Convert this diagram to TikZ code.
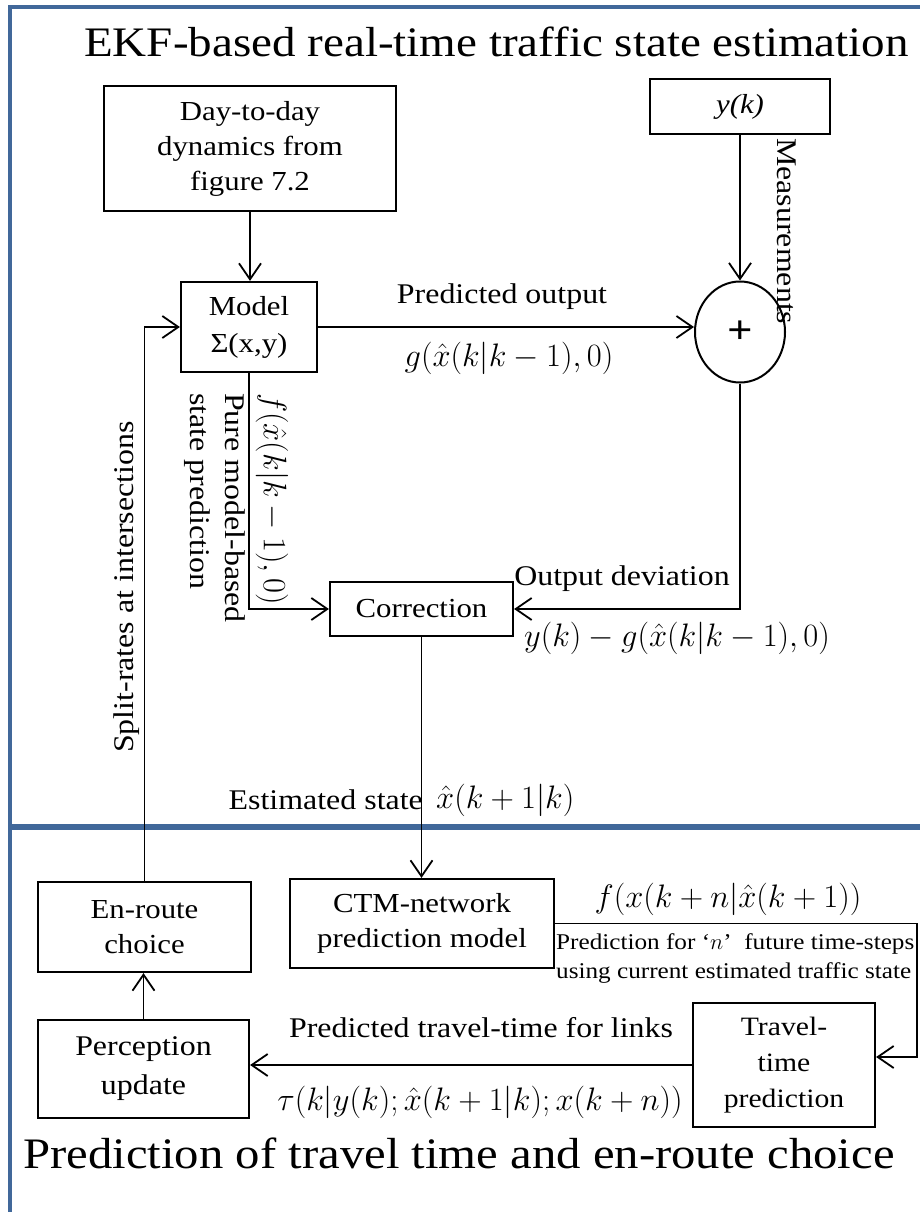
\RequirePackage{fix-cm}
\documentclass[tikz,border=0pt]{standalone}
\usepackage{fontspec}
\setmainfont{Liberation Serif}[FakeStretch=1.12]
\usetikzlibrary{arrows.meta,shapes.geometric}
\definecolor{frameblue}{RGB}{65,104,154}
\newcommand{\txtfont}{\fontsize{28.5}{35}\selectfont}
\newcommand{\boxfont}{\fontsize{27.5}{35}\selectfont}
\newcommand{\mfont}{\fontsize{32.5}{38}\selectfont}
\newcommand{\ttlfont}{\fontsize{42}{50}\selectfont}
\newcommand{\smfont}{\fontsize{22.5}{29}\selectfont}

\begin{document}
\begin{tikzpicture}[x=1pt, y=-1pt,
  >={Straight Barb[length=16pt,width=22pt]},
  box/.style={draw, line width=2.2pt, inner sep=0pt, align=center, font=\boxfont},
  conn/.style={line width=1.8pt},
  lbl/.style={inner sep=0pt, font=\txtfont},
  mlbl/.style={inner sep=0pt, font=\mfont},
  note/.style={inner sep=0pt, font=\smfont},
  ttl/.style={inner sep=0pt, font=\ttlfont}]
\useasboundingbox (0,0) rectangle (920,1212);
\clip (0,0) rectangle (920,1212);

% panel frame and divider
\draw[frameblue, line width=4.5pt] (10,1230) -- (10,7) -- (940,7);
\draw[frameblue, line width=5.5pt] (10,827) -- (940,827);

% titles
\node[ttl, anchor=base] (ttop) at (496.5,57) {EKF-based real-time traffic state estimation};
\node[ttl, anchor=base, font=\fontsize{43.5}{50}\selectfont] (tbot) at (459,1168) {Prediction of travel time and en-route choice};

% blocks
\node[box, minimum width=292pt, minimum height=125pt] (day) at (250,148.5) {Day-to-day\\dynamics from\\figure 7.2};
\node[box, minimum width=180pt, minimum height=55pt] (yk) at (740,106.5) {\textit{y(k)}};
\node[box, minimum width=136pt, minimum height=90pt, font=\fontsize{27.5}{37}\selectfont] (model) at (249,327) {Model\\Σ(x,y)};
\node[draw, ellipse, line width=2pt, minimum width=90pt, minimum height=101pt, inner sep=0pt] (sum) at (740,332) {\fontsize{40}{40}\selectfont\textbf{+}};
\node[box, minimum width=183pt, minimum height=54pt] (corr) at (421.5,609) {Correction};
\node[box, minimum width=213pt, minimum height=90pt] (route) at (144.5,927) {En-route\\choice};
\node[box, minimum width=264pt, minimum height=89pt] (ctm) at (422,923.5) {CTM-network\\prediction model};
\node[box, minimum width=211pt, minimum height=98pt, font=\fontsize{28.5}{39}\selectfont] (perc) at (143.5,1069) {Perception\\update};
\node[box, minimum width=182pt, minimum height=124pt, font=\fontsize{26.5}{36}\selectfont] (tt) at (784,1065) {Travel-\\time\\prediction};

% connectors
\draw[conn,->] (day.south) -- (day.south |- model.north);
\draw[conn,->] (yk.south) -- (sum.north);
\draw[conn,->] (model.east) -- (model.east -| sum.west);
\draw[conn,->] (sum.south) |- (corr.east);
\draw[conn,->] (model.south) |- (corr.west);
\draw[conn,->] (corr.south) -- (corr.south |- ctm.north);
\draw[conn,->] (route.north) |- (model.west);
\draw[conn,->] (perc.north) -- (perc.north |- route.south);
\coordinate (turn) at (917,1057);
\draw[conn,->] (ctm.east) -| (turn) -- (turn -| tt.east);
\draw[conn,->] (tt.west) -- (tt.west -| perc.east);

% connector labels
\node[lbl] (lpo) at (502,297) {Predicted output};
\node[mlbl] (lg) at (509,358) {$g(\hat{x}(k|k-1),0)$};
\node[mlbl, rotate=-90, anchor=west] (lf) at (272,393) {$f(\hat{x}(k|k-1),0)$};
\node[lbl, rotate=-90, anchor=west, align=left] (lpure) at (215,393) {Pure model-based\\state prediction};
\node[lbl, rotate=-90, anchor=west] (lmeas) at (787,138) {Measurements};
\node[lbl, rotate=90, anchor=west] (lsplit) at (127,753) {Split-rates at intersections};
\node[lbl] (lod) at (622,579) {Output deviation};
\node[mlbl] (ldev) at (677,638) {$y(k)-g(\hat{x}(k|k-1),0)$};
\node[lbl, anchor=east] (lest) at (423,800) {Estimated state};
\node[mlbl, anchor=west] (lxh) at (436,800) {$\hat{x}(k+1|k)$};
\node[mlbl] (lfx) at (728,899) {$f(x(k+n|\hat{x}(k+1))$};
\node[note, anchor=west, align=left] (lnote) at (556,958) {Prediction for ‘$n$’\ \ future time-steps\\using current estimated traffic state};
\node[lbl] (lptt) at (481,1028) {Predicted travel-time for links};
\node[mlbl] (ltau) at (480,1102) {$\tau(k|y(k);\hat{x}(k+1|k);x(k+n))$};
\end{tikzpicture}
\end{document}
